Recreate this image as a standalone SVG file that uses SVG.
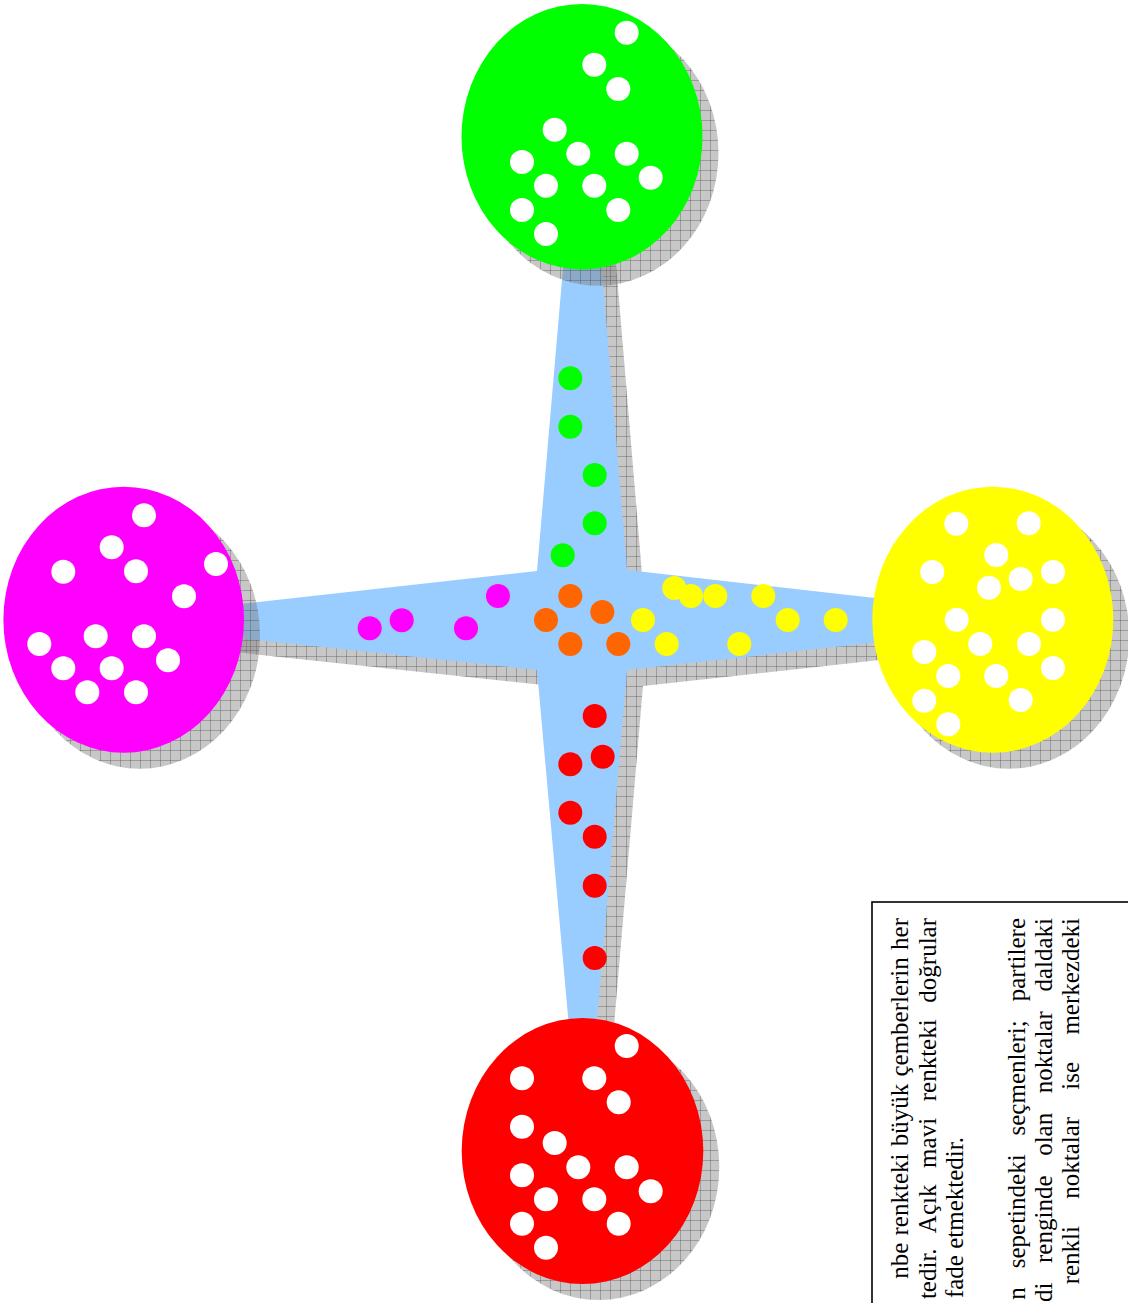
<svg xmlns="http://www.w3.org/2000/svg" width="1128" height="1303" viewBox="0 0 1128 1303">
<defs>
<pattern id="hatch" patternUnits="userSpaceOnUse" width="10" height="10">
<rect width="10" height="10" fill="#7a7a7a" fill-opacity="0.42"/>
<path d="M0 0.5H10M0.5 0V10" stroke="#404040" stroke-opacity="0.32" stroke-width="1" fill="none"/>
</pattern>
</defs>
<style>
.shadow{fill:url(#hatch);}
.w{fill:#FFFFFF;}
.g{fill:#00FF00;}
.m{fill:#FF00FF;}
.y{fill:#FFFF00;}
.r{fill:#FF0000;}
.o{fill:#FF6600;}
.arm{fill:#99CCFF;}
text{font-family:'Liberation Serif','Times New Roman',Tinos,'DejaVu Serif',serif;font-size:25px;fill:#000000;}
</style>
<rect width="1128" height="1303" fill="#FFFFFF"/>

<g id="connectors">
<polygon class="shadow" transform="translate(16,16)" points="574,140 591,140 627,570 990,611 990,630 627,670 586,1150 580,1150 537,670 124,626 124,617 537,571"/>
<polygon class="arm" points="574,140 591,140 627,570 990,611 990,630 627,670 586,1150 580,1150 537,670 124,626 124,617 537,571"/>
</g>

<g id="node-green">
<ellipse class="shadow" cx="598" cy="153" rx="120.5" ry="132.7"/>
<ellipse class="g" cx="582" cy="136.7" rx="120.5" ry="132.7"/>
<g class="w">
<circle cx="626.7" cy="32.7" r="12"/><circle cx="594.3" cy="64.7" r="12"/><circle cx="618.3" cy="89" r="12"/>
<circle cx="554.7" cy="129.7" r="12"/><circle cx="522" cy="162" r="12"/><circle cx="578.3" cy="153.7" r="12"/>
<circle cx="626.7" cy="153.7" r="12"/><circle cx="546" cy="185.7" r="12"/><circle cx="594.3" cy="185.7" r="12"/>
<circle cx="650.7" cy="177.7" r="12"/><circle cx="522" cy="210" r="12"/><circle cx="618.3" cy="210" r="12"/>
<circle cx="546" cy="234" r="12"/>
</g>
</g>

<g id="node-magenta">
<ellipse class="shadow" cx="139.7" cy="635.7" rx="120.3" ry="133"/>
<ellipse class="m" cx="123.7" cy="619.7" rx="120.3" ry="133"/>
<g class="w">
<circle cx="144" cy="515.3" r="12"/><circle cx="111.7" cy="547.3" r="12"/><circle cx="63.3" cy="571.7" r="12"/>
<circle cx="136" cy="571.3" r="12"/><circle cx="216" cy="564" r="12"/><circle cx="184" cy="596.3" r="12"/>
<circle cx="95.7" cy="636.3" r="12"/><circle cx="144" cy="636.3" r="12"/><circle cx="39.3" cy="644" r="12"/>
<circle cx="168" cy="660.3" r="12"/><circle cx="63.3" cy="668.3" r="12"/><circle cx="111.7" cy="668.3" r="12"/>
<circle cx="87.3" cy="692.3" r="12"/><circle cx="136" cy="692.3" r="12"/>
</g>
</g>

<g id="node-yellow">
<ellipse class="shadow" cx="1008.8" cy="635.7" rx="120.5" ry="133"/>
<ellipse class="y" cx="992.8" cy="619.7" rx="120.5" ry="133"/>
<g class="w">
<circle cx="956.3" cy="523.7" r="12"/><circle cx="1028.7" cy="523.3" r="12"/><circle cx="996.3" cy="555" r="12"/>
<circle cx="932.3" cy="572" r="12"/><circle cx="1020.7" cy="579" r="12"/><circle cx="1053" cy="572" r="12"/>
<circle cx="989" cy="587.7" r="12"/><circle cx="956.7" cy="619.7" r="12"/><circle cx="1053" cy="619.7" r="12"/>
<circle cx="980.3" cy="644" r="12"/><circle cx="1029" cy="644" r="12"/><circle cx="924.3" cy="652" r="12"/>
<circle cx="948.3" cy="676" r="12"/><circle cx="996.3" cy="676" r="12"/><circle cx="1053" cy="668" r="12"/>
<circle cx="924.3" cy="700.7" r="12"/><circle cx="1020.7" cy="700" r="12"/><circle cx="948.3" cy="724.3" r="12"/>
</g>
</g>

<g id="node-red">
<ellipse class="shadow" cx="598.5" cy="1167" rx="120.8" ry="133"/>
<ellipse class="r" cx="582.5" cy="1151" rx="120.8" ry="133"/>
<g class="w">
<circle cx="626.7" cy="1046" r="12"/><circle cx="522" cy="1078.3" r="12"/><circle cx="594.3" cy="1078.3" r="12"/>
<circle cx="618.7" cy="1102.3" r="12"/><circle cx="522" cy="1126.7" r="12"/><circle cx="554.7" cy="1143" r="12"/>
<circle cx="578.3" cy="1167.3" r="12"/><circle cx="626.7" cy="1167.3" r="12"/><circle cx="522" cy="1175.3" r="12"/>
<circle cx="546" cy="1199.3" r="12"/><circle cx="594.3" cy="1199.3" r="12"/><circle cx="650.7" cy="1191.3" r="12"/>
<circle cx="522" cy="1223.7" r="12"/><circle cx="618.7" cy="1223.7" r="12"/><circle cx="546" cy="1247.7" r="12"/>
</g>
</g>

<g id="voters">
<g class="g">
<circle cx="570.3" cy="378.3" r="12"/><circle cx="570.3" cy="426.7" r="12"/><circle cx="594.7" cy="475" r="12"/>
<circle cx="594.7" cy="523.3" r="12"/><circle cx="562.7" cy="555.3" r="12"/>
</g>
<g class="r">
<circle cx="594.7" cy="716" r="12"/><circle cx="602.7" cy="756.7" r="12"/><circle cx="570.3" cy="764.3" r="12"/>
<circle cx="570.3" cy="812.7" r="12"/><circle cx="594.7" cy="836.7" r="12"/><circle cx="594.7" cy="885.7" r="12"/>
<circle cx="594.7" cy="958" r="12"/>
</g>
<g class="o">
<circle cx="570.3" cy="596" r="12"/><circle cx="602.3" cy="612" r="12"/><circle cx="546" cy="620" r="12"/>
<circle cx="570.3" cy="644" r="12"/><circle cx="618.3" cy="644" r="12"/>
</g>
<g class="y">
<circle cx="674.3" cy="588" r="12"/><circle cx="691" cy="596" r="12"/><circle cx="715.3" cy="596" r="12"/>
<circle cx="763.3" cy="596" r="12"/><circle cx="643" cy="620" r="12"/><circle cx="787.7" cy="620" r="12"/>
<circle cx="835.7" cy="620" r="12"/><circle cx="666.7" cy="644" r="12"/><circle cx="739.3" cy="644" r="12"/>
</g>
<g class="m">
<circle cx="369.7" cy="628.3" r="12"/><circle cx="401.7" cy="620.3" r="12"/><circle cx="466" cy="628.3" r="12"/>
<circle cx="498" cy="596" r="12"/>
</g>
</g>

<g id="legend">
<rect x="872" y="902" width="300" height="450" fill="#FFFFFF" stroke="#000000" stroke-width="1.6"/>
<g transform="rotate(-90)" text-anchor="end">
<text x="-918" y="908" word-spacing="1">nbe renkteki büyük çemberlerin her</text>
<text x="-918" y="936" word-spacing="10.4">tedir. Açık mavi renkteki doğrular</text>
<text x="-1137" y="963">fade etmektedir.</text>
<text x="-918" y="1025" word-spacing="12.7">n sepetindeki seçmenleri; partilere</text>
<text x="-918" y="1052" word-spacing="13.4">di renginde olan noktalar daldaki</text>
<text x="-918" y="1079" word-spacing="21">renkli noktalar ise merkezdeki</text>
</g>
</g>
</svg>
